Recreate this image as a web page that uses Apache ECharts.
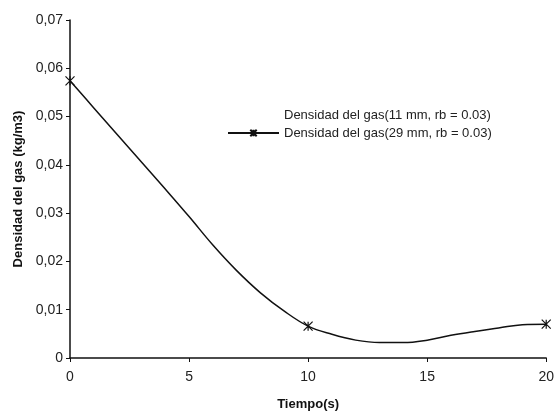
<!DOCTYPE html>
<html>
<head>
<meta charset="utf-8">
<script src="https://cdn.jsdelivr.net/npm/echarts@6/dist/echarts.min.js"></script>
<style>
  html, body { margin: 0; padding: 0; background: #fff; }
  #main { width: 557px; height: 416px; }
</style>
</head>
<body>
<div id="main"></div>
<script>
// tiempo (s) y densidad
var tiempo = [0, 1, 2, 3, 4, 5, 6, 7, 8, 9, 10, 11, 12, 13, 14, 15, 16, 17, 18, 19, 20];
var densidad29 = [0.0574, 0.0518, 0.0462, 0.0406, 0.0350, 0.0293, 0.0234, 0.0181, 0.0135, 0.0097,
  0.0066, 0.0049, 0.0037, 0.0032, 0.0032, 0.0037, 0.0047, 0.0055, 0.0062, 0.0069, 0.0070];
var densidad11 = []; // no se ve en la figura
var marcas = [0, 10, 20];
var yTicks = [0, 0.01, 0.02, 0.03, 0.04, 0.05, 0.06, 0.07];

var nombre11 = 'Densidad del gas(11 mm, rb = 0.03)';
var nombre29 = 'Densidad del gas(29 mm, rb = 0.03)';

// asterisco (x + barra vertical)
var estrella = 'path://M0,0L10,10M10,0L0,10M5,0L5,10';

var chartDom = document.getElementById('main');
var myChart = echarts.init(chartDom);
var option;

var datos29 = tiempo.map(function (t, i) {
  return {
    value: [t, densidad29[i]],
    symbol: marcas.indexOf(t) >= 0 ? estrella : 'none'
  };
});

option = {
  animation: false,
  backgroundColor: '#fff',
  textStyle: { fontFamily: 'Liberation Sans, Arial, sans-serif' },
  grid: {
    left: 70,
    right: 9,
    top: 20,
    bottom: 53,
    containLabel: false
  },
  legend: {
    orient: 'vertical',
    left: 222,
    top: 103,
    itemWidth: 51,
    itemHeight: 8,
    itemGap: 4,
    textStyle: { color: '#222', fontSize: 13, lineHeight: 14 },
    data: [nombre11, nombre29]
  },
  xAxis: {
    type: 'value',
    min: 0,
    max: 20,
    interval: 5,
    name: 'Tiempo(s)',
    nameLocation: 'middle',
    nameGap: 40,
    nameTextStyle: { fontWeight: 'bold', fontSize: 13, color: '#111' },
    axisLine: { lineStyle: { color: '#111', width: 1.5 } },
    axisTick: { show: true, length: 4, lineStyle: { color: '#111' } },
    axisLabel: { margin: 12, fontSize: 14, color: '#222' },
    splitLine: { show: false }
  },
  yAxis: {
    type: 'value',
    min: 0,
    max: 0.07,
    interval: 0.01,
    name: 'Densidad del gas (kg/m3)',
    nameLocation: 'middle',
    nameGap: 44,
    nameTextStyle: { fontWeight: 'bold', fontSize: 13, color: '#111' },
    axisLine: { show: true, lineStyle: { color: '#111', width: 1.5 } },
    axisTick: { show: true, length: 4, lineStyle: { color: '#111' } },
    axisLabel: {
      margin: 7,
      fontSize: 14,
      color: '#222',
      formatter: function (v) {
        var r = Math.round(v * 100) / 100;
        if (yTicks.indexOf(r) < 0) return '';
        return r === 0 ? '0' : r.toFixed(2).replace('.', ',');
      }
    },
    splitLine: { show: false }
  },
  series: [{
    name: nombre11,
    type: 'line',
    data: densidad11,
    symbol: 'none',
    lineStyle: { color: 'rgba(0,0,0,0)' },
    itemStyle: { color: 'rgba(0,0,0,0)' }
  }, {
    name: nombre29,
    type: 'line',
    smooth: 0.4,
    data: datos29,
    symbol: estrella,
    symbolSize: 9,
    showAllSymbol: true,
    lineStyle: { color: '#111', width: 1.5 },
    itemStyle: { color: '#111', borderColor: '#111', borderWidth: 1.2 }
  }]
};

myChart.setOption(option);
</script>
</body>
</html>
